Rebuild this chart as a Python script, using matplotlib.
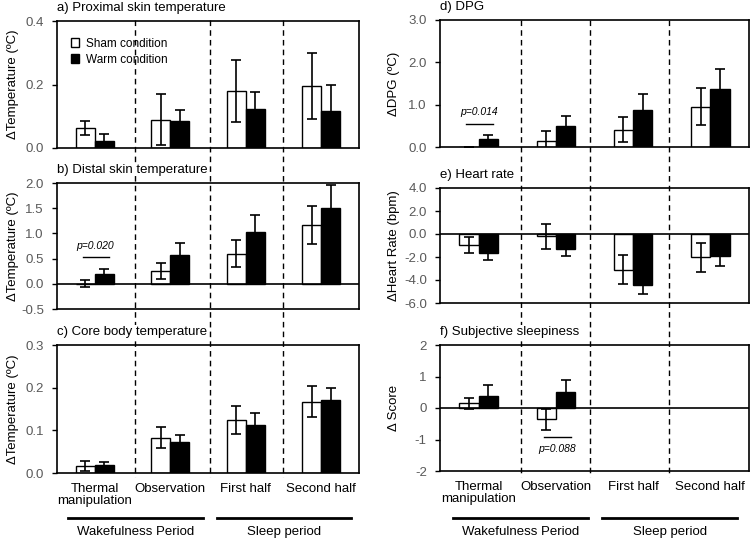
import numpy as np
import matplotlib.pyplot as plt
from matplotlib.patches import Patch
from matplotlib.transforms import blended_transform_factory

plt.rcParams['font.family'] = ['Liberation Sans', 'DejaVu Sans']
plt.rcParams['font.size'] = 9.5

groups = ['Thermal\nmanipulation', 'Observation', 'First half', 'Second half']

prox_sham = [0.063, 0.089, 0.179, 0.196]
prox_sham_err = [0.021, 0.080, 0.098, 0.104]
prox_warm = [0.023, 0.084, 0.124, 0.116]
prox_warm_err = [0.020, 0.036, 0.051, 0.083]

dist_sham = [0.00, 0.25, 0.60, 1.17]
dist_sham_err = [0.07, 0.16, 0.27, 0.38]
dist_warm = [0.20, 0.58, 1.02, 1.50]
dist_warm_err = [0.09, 0.22, 0.35, 0.46]

core_sham = [0.016, 0.083, 0.124, 0.167]
core_sham_err = [0.011, 0.025, 0.032, 0.036]
core_warm = [0.019, 0.072, 0.113, 0.170]
core_warm_err = [0.007, 0.018, 0.027, 0.030]

dpg_sham = [0.005, 0.14, 0.41, 0.955]
dpg_sham_err = [0.0, 0.24, 0.30, 0.43]
dpg_warm = [0.20, 0.49, 0.88, 1.38]
dpg_warm_err = [0.08, 0.25, 0.37, 0.47]

hr_sham = [-0.96, -0.20, -3.09, -2.01]
hr_sham_err = [0.72, 1.07, 1.27, 1.27]
hr_warm = [-1.66, -1.34, -4.46, -1.87]
hr_warm_err = [0.61, 0.58, 0.79, 0.93]

sleepy_sham = [0.15, -0.36, np.nan, np.nan]
sleepy_sham_err = [0.17, 0.34, np.nan, np.nan]
sleepy_warm = [0.39, 0.51, np.nan, np.nan]
sleepy_warm_err = [0.33, 0.37, np.nan, np.nan]

W = 751
H = 541
fig = plt.figure(figsize=(W / 100, H / 100), dpi=100)


def px_axes(left, top, right, bottom):
    return fig.add_axes([left / W, 1 - bottom / H, (right - left) / W, (bottom - top) / H])


def panel(ax, title, ylabel, sham, sham_err, warm, warm_err, ylim, yticks, fmt,
          zero_line=False, label_x=-0.12):
    x = np.arange(len(groups))
    w = 0.25
    ax.bar(x - w / 2, sham, w, color='white', edgecolor='black', linewidth=1, zorder=2)
    ax.bar(x + w / 2, warm, w, color='black', edgecolor='black', linewidth=1, zorder=2)
    ax.errorbar(x - w / 2, sham, yerr=sham_err, fmt='none', ecolor='black',
                elinewidth=1.2, capsize=3.5, capthick=1.2, zorder=3)
    ax.errorbar(x + w / 2, warm, yerr=warm_err, fmt='none', ecolor='black',
                elinewidth=1.2, capsize=3.5, capthick=1.2, zorder=3)
    if zero_line:
        ax.axhline(0, color='black', linewidth=1.2, zorder=4)
    ax.set_xlim(-0.5, 3.5)
    ax.set_ylim(*ylim)
    ax.set_yticks(yticks)
    ax.set_yticklabels([fmt % v for v in yticks])
    ax.tick_params(axis='y', colors='black', labelcolor='#595959', length=3.5, width=1, pad=6)
    ax.tick_params(axis='x', length=0)
    ax.set_xticks(x)
    ax.set_xticklabels([])
    for s in ax.spines.values():
        s.set_linewidth(1.2)
    ax.patch.set_alpha(0)
    ax.set_zorder(2)
    ax.set_ylabel(ylabel)
    ax.yaxis.set_label_coords(label_x, 0.5)
    ax.annotate(title, xy=(0, 1), xycoords='axes fraction', xytext=(0, 9.5),
                textcoords='offset points', va='center', ha='left',
                bbox=dict(facecolor='white', edgecolor='none', pad=0.5))


def pvalue(ax, gi, y_line, y_text, text):
    ax.plot([gi - 0.16, gi + 0.19], [y_line, y_line], color='black', linewidth=1, zorder=3)
    ax.text(gi + 0.01, y_text, text, ha='center', va='center', style='italic', fontsize=7.5)


ax_a = px_axes(57, 21, 359, 148)
ax_b = px_axes(57, 183, 359, 309)
ax_c = px_axes(57, 345, 359, 473)
ax_d = px_axes(440, 20, 749, 147)
ax_e = px_axes(440, 188, 749, 303)
ax_f = px_axes(440, 345, 749, 471)

panel(ax_a, 'a) Proximal skin temperature', 'ΔTemperature (ºC)', prox_sham, prox_sham_err,
      prox_warm, prox_warm_err, (0, 0.4), [0.0, 0.2, 0.4], '%.1f', label_x=-0.125)
panel(ax_b, 'b) Distal skin temperature', 'ΔTemperature (ºC)', dist_sham, dist_sham_err,
      dist_warm, dist_warm_err, (-0.5, 2.0), [-0.5, 0.0, 0.5, 1.0, 1.5, 2.0], '%.1f',
      zero_line=True, label_x=-0.125)
panel(ax_c, 'c) Core body temperature', 'ΔTemperature (ºC)', core_sham, core_sham_err,
      core_warm, core_warm_err, (0, 0.3), [0.0, 0.1, 0.2, 0.3], '%.1f', label_x=-0.125)
panel(ax_d, 'd) DPG', 'ΔDPG (ºC)', dpg_sham, dpg_sham_err, dpg_warm, dpg_warm_err,
      (0, 3.0), [0.0, 1.0, 2.0, 3.0], '%.1f', label_x=-0.131)
panel(ax_e, 'e) Heart rate', 'ΔHeart Rate (bpm)', hr_sham, hr_sham_err, hr_warm, hr_warm_err,
      (-6.0, 4.0), [-6.0, -4.0, -2.0, 0.0, 2.0, 4.0], '%.1f', zero_line=True, label_x=-0.131)
panel(ax_f, 'f) Subjective sleepiness', 'Δ Score', sleepy_sham, sleepy_sham_err,
      sleepy_warm, sleepy_warm_err, (-2, 2), [-2, -1, 0, 1, 2], '%d', zero_line=True,
      label_x=-0.131)

pvalue(ax_b, 0, 0.54, 0.75, 'p=0.020')
pvalue(ax_d, 0, 0.54, 0.83, 'p=0.014')
pvalue(ax_f, 1, -0.91, -1.31, 'p=0.088')

ax_a.legend(handles=[Patch(facecolor='white', edgecolor='black'),
                     Patch(facecolor='black', edgecolor='black')],
            labels=['Sham condition', 'Warm condition'],
            loc='upper left', bbox_to_anchor=(0.045, 0.87), frameon=False, fontsize=8.5,
            handlelength=0.7, handleheight=0.7, handletextpad=0.6, labelspacing=0.35,
            borderpad=0, borderaxespad=0)

# dashed separators through each column
for ax, xs in [(ax_c, [0.53, 1.53, 2.49]), (ax_f, [0.545, 1.44, 2.46])]:
    tr = blended_transform_factory(ax.transData, fig.transFigure)
    for xv in xs:
        fig.add_artist(plt.Line2D([xv, xv], [1 - 20 / H, 1 - 477 / H], transform=tr,
                                  color='black', linewidth=1, linestyle=(0, (4, 3)),
                                  zorder=1))

# bottom category labels and periods
for ax, spans in [(ax_c, [(-0.35, 1.43), (1.62, 3.39)]), (ax_f, [(-0.33, 1.42), (1.6, 3.35)])]:
    ax.set_xticklabels(groups, linespacing=1.0)
    ax.tick_params(axis='x', pad=7)
    tr = blended_transform_factory(ax.transData, fig.transFigure)
    for (x0, x1), name in zip(spans, ['Wakefulness Period', 'Sleep period']):
        fig.add_artist(plt.Line2D([x0, x1], [1 - 518 / H, 1 - 518 / H], transform=tr,
                                  color='black', linewidth=2))
        fig.text((x0 + x1) / 2, 1 - 532 / H, name, transform=tr, ha='center', va='center')

plt.savefig('out.png', dpi=100)
plt.close()
